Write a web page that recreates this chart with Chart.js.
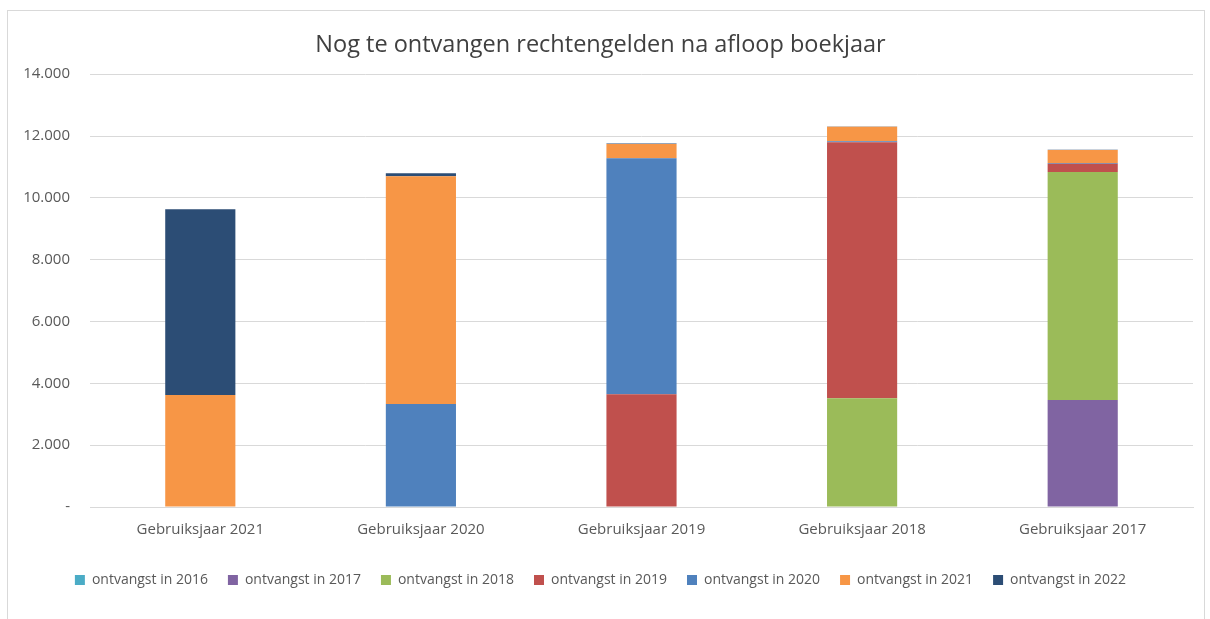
<!DOCTYPE html>
<html>
<head>
<meta charset="utf-8">
<script src="https://cdn.jsdelivr.net/npm/chart.js@4/dist/chart.umd.min.js"></script>
<style>
  body { margin: 0; background: #ffffff; }
  #wrap {
    position: absolute; left: 7px; top: 10px;
    width: 1196px; height: 620px;
    border: 1px solid #d9d9d9;
  }
</style>
</head>
<body>
<div id="wrap"><canvas id="chart"></canvas></div>
<script>
// categories on the x axis
const categories = ["Gebruiksjaar 2021", "Gebruiksjaar 2020", "Gebruiksjaar 2019", "Gebruiksjaar 2018", "Gebruiksjaar 2017"];

// one series per year of receipt
const ontvangst_2016 = [0, 0, 0, 0, 0];
const ontvangst_2017 = [0, 0, 0, 0, 3460];
const ontvangst_2018 = [0, 0, 0, 3520, 7380];
const ontvangst_2019 = [0, 0, 3650, 8280, 260];
const ontvangst_2020 = [0, 3330, 7630, 30, 30];
const ontvangst_2021 = [3620, 7370, 460, 470, 420];
const ontvangst_2022 = [6015, 100, 15, 10, 10];

const series_labels = ["ontvangst in 2016", "ontvangst in 2017", "ontvangst in 2018", "ontvangst in 2019",
                       "ontvangst in 2020", "ontvangst in 2021", "ontvangst in 2022"];
const series_values = [ontvangst_2016, ontvangst_2017, ontvangst_2018, ontvangst_2019,
                       ontvangst_2020, ontvangst_2021, ontvangst_2022];
const series_colors = ["#4bacc6", "#8064a2", "#9bbb59", "#c0504d", "#4f81bd", "#f79646", "#2c4d75"];

// y axis ticks
const y_max = 14000;
const y_step = 2000;

var datasets = [];
for (let i = 0; i < series_labels.length; i++) {
    datasets.push({
        label: series_labels[i],
        data: series_values[i],
        backgroundColor: series_colors[i],
        borderWidth: 0,
        barPercentage: 0.318,
        categoryPercentage: 1.0
    });
}

function format_tick(value) {
    if (value === 0) return "-";
    return value.toLocaleString("nl-NL");
}

const font_family = "'Open Sans', 'Liberation Sans', sans-serif";

const config = {
    type: 'bar',
    data: { labels: categories, datasets: datasets },
    options: {
        responsive: true,
        maintainAspectRatio: false,
        animation: false,
        layout: { padding: { left: 0, right: 11, top: 0, bottom: 34 } },
        plugins: {
            title: {
                display: true,
                text: "Nog te ontvangen rechtengelden na afloop boekjaar",
                color: "#404040",
                font: { family: font_family, size: 23.5, weight: 'normal' },
                padding: { top: 20, bottom: 15 }
            },
            legend: {
                position: 'bottom',
                labels: {
                    color: "#595959",
                    font: { family: font_family, size: 14 },
                    boxWidth: 10,
                    boxHeight: 10,
                    padding: 20
                }
            },
            tooltip: { enabled: false }
        },
        scales: {
            x: {
                stacked: true,
                grid: { display: false, drawTicks: false },
                border: { color: "#d9d9d9" },
                ticks: { color: "#595959", font: { family: font_family, size: 15 }, padding: 14 }
            },
            y: {
                stacked: true,
                min: 0,
                max: y_max,
                grid: { color: "#d9d9d9", drawTicks: false },
                border: { display: false },
                ticks: {
                    stepSize: y_step,
                    color: "#595959",
                    font: { family: font_family, size: 15 },
                    padding: 20,
                    callback: format_tick
                },
                afterFit: function(scale) { scale.width = 82; }
            }
        }
    }
};

new Chart(document.getElementById("chart"), config);
</script>
</body>
</html>
